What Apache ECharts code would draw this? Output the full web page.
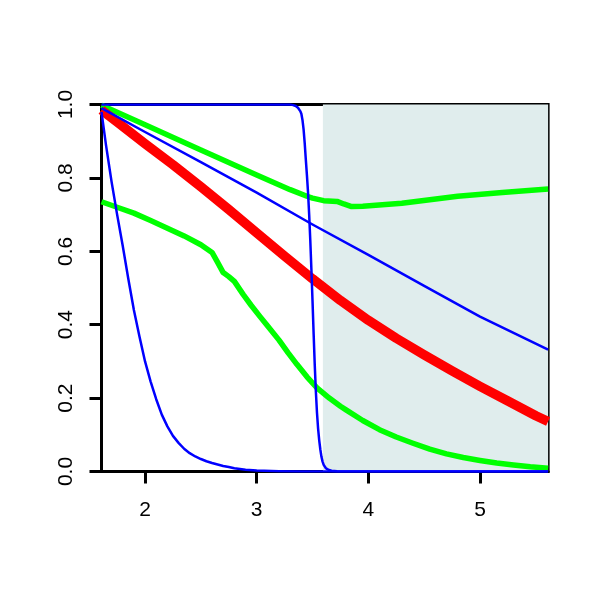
<!DOCTYPE html>
<html><head><meta charset="utf-8">
<script src="https://cdn.jsdelivr.net/npm/echarts@6/dist/echarts.min.js"></script>
<style>html,body{margin:0;padding:0;background:#fff}#c{width:600px;height:600px}</style>
</head><body><div id="c"></div>
<script>
// ---- data ----
const xTicks = [2, 3, 4, 5];
const shadeFrom = 3.593;
const xMin = 1.61, xMax = 5.61;

const blueFastX = [1.61,1.65,1.70,1.75,1.80,1.85,1.90,1.95,2.00,2.05,2.10,2.15,2.20,2.25,2.30,2.35,2.40,2.45,2.50,2.55,2.60,2.65,2.70,2.75,2.80,2.90,3.00,3.20,3.40,5.61];
const blueFastY = [0.98,0.89,0.79,0.70,0.615,0.525,0.44,0.368,0.30,0.245,0.197,0.155,0.123,0.097,0.078,0.062,0.05,0.041,0.034,0.028,0.023,0.019,0.015,0.012,0.009,0.005,0.003,0.001,0,0];

const blueStepX = [1.61,3.30,3.32,3.35,3.37,3.39,3.40,3.41,3.42,3.43,3.44,3.45,3.46,3.47,3.48,3.49,3.50,3.51,3.52,3.53,3.54,3.55,3.56,3.57,3.58,3.59,3.60,3.62,3.64,3.67,3.72,5.61];
const blueStepY = [1.0,1.0,0.999,0.996,0.991,0.982,0.975,0.958,0.932,0.895,0.85,0.807,0.76,0.70,0.63,0.55,0.465,0.375,0.29,0.218,0.16,0.117,0.085,0.06,0.04,0.027,0.018,0.009,0.005,0.002,0.0005,0];

const blueLineX = [1.61,2.0,2.5,3.0,3.5,4.0,4.5,5.0,5.61];
const blueLineY = [0.99,0.925,0.843,0.76,0.673,0.59,0.506,0.422,0.332];

const redX = [1.61,1.75,2.0,2.25,2.5,2.75,3.0,3.25,3.5,3.75,4.0,4.25,4.5,4.75,5.0,5.25,5.5,5.61];
const redY = [0.985,0.952,0.893,0.836,0.776,0.714,0.650,0.587,0.525,0.466,0.412,0.363,0.318,0.274,0.232,0.192,0.152,0.136];

const greenTopX = [1.61,2.0,2.5,3.0,3.3,3.45,3.5,3.6,3.72,3.78,3.85,3.95,4.3,4.8,5.2,5.61];
const greenTopY = [0.998,0.945,0.876,0.808,0.768,0.75,0.745,0.738,0.736,0.729,0.722,0.723,0.731,0.75,0.76,0.77];

const greenLowX = [1.61,1.75,1.9,2.05,2.2,2.35,2.5,2.6,2.65,2.7,2.75,2.8,2.88,2.95,3.03,3.1,3.2,3.28,3.36,3.45,3.54,3.65,3.75,3.8,3.95,4.1,4.25,4.4,4.55,4.7,4.85,5.0,5.15,5.3,5.45,5.61];
const greenLowY = [0.735,0.72,0.704,0.684,0.663,0.642,0.618,0.597,0.57,0.542,0.531,0.518,0.482,0.453,0.422,0.396,0.358,0.324,0.292,0.258,0.228,0.2,0.178,0.168,0.139,0.114,0.094,0.077,0.061,0.048,0.038,0.03,0.023,0.018,0.013,0.009];

// ---- chart ----
const zip = (xs, ys) => xs.map((x, i) => [x, ys[i]]);
const font = 'Liberation Sans, Arial, Helvetica, sans-serif';
const chart = echarts.init(document.getElementById('c'), null, {renderer: 'canvas'});
function line(name, xs, ys, color, width, z) {
  return {name, type: 'line', data: zip(xs, ys), showSymbol: false, symbol: 'none',
    smooth: false, z: z, clip: true,
    lineStyle: {color, width, cap: 'butt', join: 'round'}, animation: false};
}
chart.setOption({
  animation: false,
  backgroundColor: '#fff',
  grid: {left: 101.5, top: 104.5, width: 446.6, height: 367, show: true,
         borderColor: '#000', borderWidth: 3, backgroundColor: 'transparent'},
  xAxis: {type: 'value', min: xMin, max: xMax,
    axisLine: {show: true, onZero: false, lineStyle: {color: '#000', width: 3}},
    axisTick: {show: true, length: 12, lineStyle: {color: '#000', width: 3}, customValues: xTicks},
    axisLabel: {show: true, customValues: xTicks, margin: 28, color: '#000', fontSize: 21, fontFamily: font},
    splitLine: {show: false}},
  yAxis: {type: 'value', min: 0, max: 1, interval: 0.2,
    axisLine: {show: true, onZero: false, lineStyle: {color: '#000', width: 3}},
    axisTick: {show: true, length: 12, lineStyle: {color: '#000', width: 3}},
    axisLabel: {show: true, rotate: 90, margin: 25, color: '#000', fontSize: 21, fontFamily: font,
      formatter: v => v.toFixed(1)},
    splitLine: {show: false}},
  series: [
    {type: 'line', data: [], z: 1, silent: true,
     markArea: {silent: true, itemStyle: {color: '#e0eded'},
       data: [[{xAxis: shadeFrom}, {xAxis: xMax}]]}},
    line('greenLow', greenLowX, greenLowY, '#00ff00', 5.5, 3),
    line('greenTop', greenTopX, greenTopY, '#00ff00', 5.5, 3),
    line('red', redX, redY, '#ff0000', 9.5, 3),
    line('blueLine', blueLineX, blueLineY, '#0000ff', 2.5, 4),
    line('blueFast', blueFastX, blueFastY, '#0000ff', 2.5, 4),
    line('blueStep', blueStepX, blueStepY, '#0000ff', 2.5, 4)
  ]
});
</script></body></html>
